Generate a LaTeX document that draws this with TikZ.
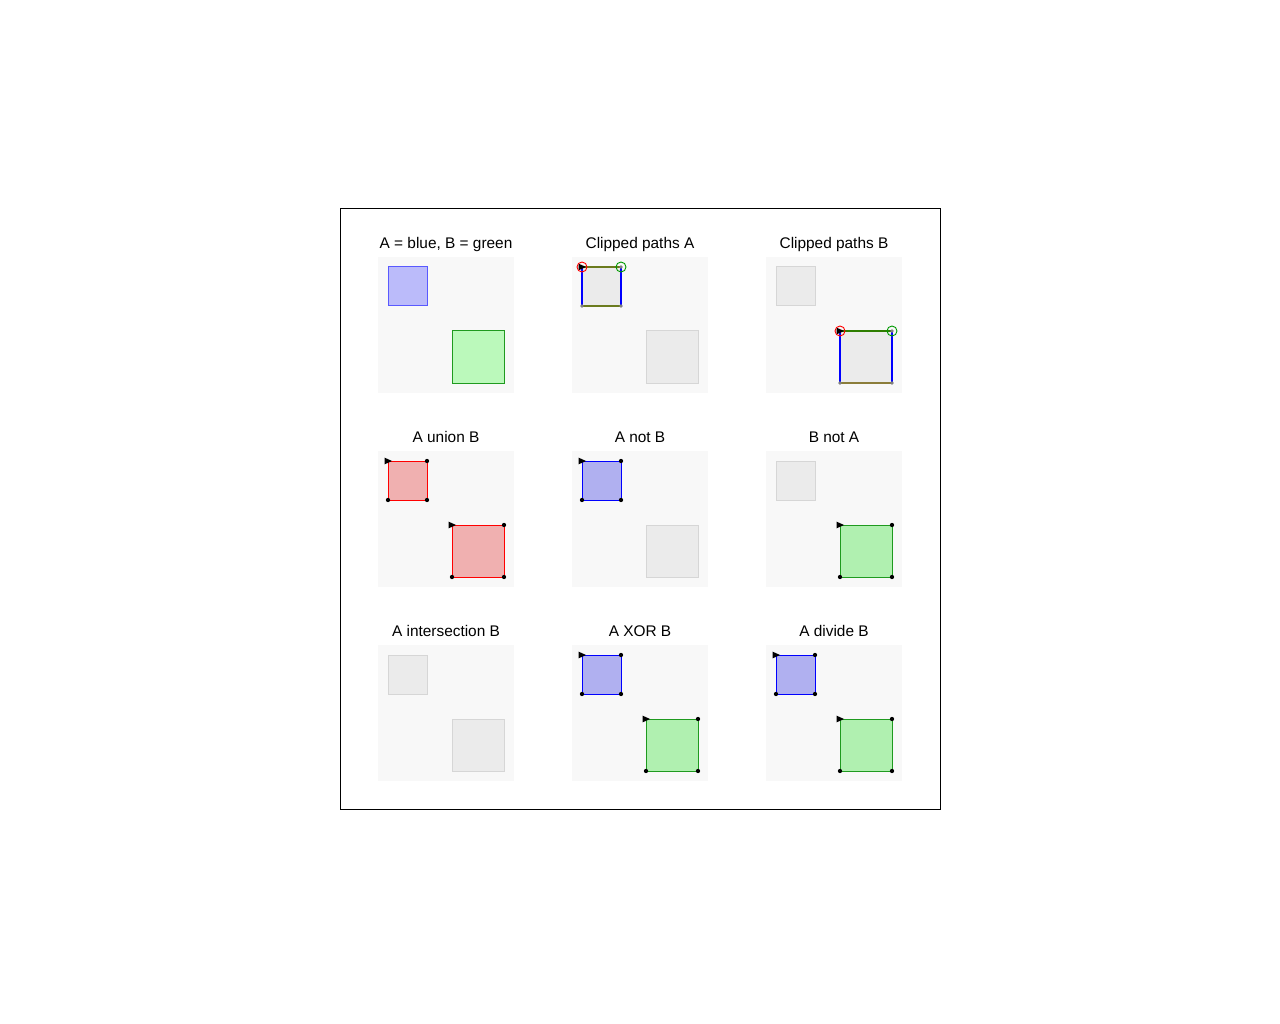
\documentclass[tikz,border=0pt]{standalone}
\usepackage{fontspec}
\setmainfont{Liberation Sans}
\usetikzlibrary{positioning}

\definecolor{panelbg}{HTML}{F8F8F8}
\definecolor{ghostfill}{HTML}{EBEBEB}
\definecolor{ghostline}{HTML}{D6D6D6}
\definecolor{Ablue}{HTML}{BBBBFA}
\definecolor{Bgreen}{HTML}{BBF9BB}
\definecolor{resblue}{HTML}{B0B0F0}
\definecolor{resgreen}{HTML}{B0F0B0}
\definecolor{resred}{HTML}{F0B0B0}
\definecolor{edgeolive}{HTML}{6B7B1E}
\definecolor{edgegreen}{HTML}{2E7D00}
\definecolor{edgebrown}{HTML}{8B7D3A}
\definecolor{greendraw}{HTML}{1F9A1F}

\newcommand{\startmark}[1]{\fill[black] ([shift={(-3.5,-3.4)}]#1) -- ++(7.5,3.4) -- ++(-7.5,3.4) -- cycle;}

\begin{document}
\begin{tikzpicture}[x=1pt,y=-1pt,
  panel/.style={fill=panelbg, minimum size=136, inner sep=0pt, outer sep=0pt},
  title/.style={font=\fontsize{15.4}{18}\selectfont, inner sep=0pt, anchor=base},
  sqA/.style={minimum size=39, inner sep=0pt, outer sep=0pt, line width=1pt},
  sqB/.style={minimum size=52, inner sep=0pt, outer sep=0pt, line width=1pt},
  ghost/.style={fill=ghostfill, draw=ghostline},
  vdot/.style={circle, fill=black, inner sep=0pt, minimum size=4.3},
  gdot/.style={circle, fill=gray, inner sep=0pt, minimum size=3.8},
  ring/.style={circle, draw=#1, line width=0.9pt, inner sep=0pt, minimum size=10}]
\useasboundingbox (0,0) rectangle (1280,1024);
\draw[line width=1pt] (340,209) rectangle (940,809);

% row 1
\node[panel] (p11) at (446,325) {};
\node[panel] (p12) at (640,325) {};
\node[panel] (p13) at (834,325) {};
\node[title] (t11) at (446,248.3) {A = blue, B = green};
\node[title] (t12) at (640,248.3) {Clipped paths A};
\node[title] (t13) at (834,248.3) {Clipped paths B};

% A = blue, B = green
\node[sqA, fill=Ablue, draw=blue!65] (a11) at (407.5,286.5) {};
\node[sqB, fill=Bgreen, draw=greendraw] (b11) at (478,357) {};

% clipped paths A
\node[sqA, ghost] (a12) at (601.5,286.5) {};
\node[sqB, ghost] (b12) at (672,357) {};
\draw[edgeolive, line width=1.3pt] (a12.north west) -- (a12.north east);
\draw[edgeolive, line width=1.3pt] (a12.south west) -- (a12.south east);
\draw[blue, line width=1.3pt] (a12.north west) -- (a12.south west);
\draw[blue, line width=1.3pt] (a12.north east) -- (a12.south east);
\node[gdot] at (a12.north east) {};
\node[gdot] at (a12.south east) {};
\node[gdot] at (a12.south west) {};
\startmark{a12.north west}
\node[ring=red] at (a12.north west) {};
\node[ring=green!60!black] at (a12.north east) {};

% clipped paths B
\node[sqA, ghost] (a13) at (795.5,286.5) {};
\node[sqB, ghost] (b13) at (866,357) {};
\draw[edgegreen, line width=1.3pt] (b13.north west) -- (b13.north east);
\draw[edgebrown, line width=1.3pt] (b13.south west) -- (b13.south east);
\draw[blue, line width=1.3pt] (b13.north west) -- (b13.south west);
\draw[blue, line width=1.3pt] (b13.north east) -- (b13.south east);
\node[gdot] at (b13.north east) {};
\node[gdot] at (b13.south east) {};
\node[gdot] at (b13.south west) {};
\startmark{b13.north west}
\node[ring=red] at (b13.north west) {};
\node[ring=green!60!black] at (b13.north east) {};

% row 2
\node[panel] (p21) at (446,519) {};
\node[panel] (p22) at (640,519) {};
\node[panel] (p23) at (834,519) {};
\node[title] (t21) at (446,442) {A union B};
\node[title] (t22) at (640,442) {A not B};
\node[title] (t23) at (834,442) {B not A};

% A union B
\node[sqA, fill=resred, draw=red] (a21) at (407.5,480.5) {};
\node[sqB, fill=resred, draw=red] (b21) at (478,551) {};
\node[vdot] at (a21.north east) {};
\node[vdot] at (a21.south east) {};
\node[vdot] at (a21.south west) {};
\startmark{a21.north west}
\node[vdot] at (b21.north east) {};
\node[vdot] at (b21.south east) {};
\node[vdot] at (b21.south west) {};
\startmark{b21.north west}

% A not B
\node[sqA, fill=resblue, draw=blue] (a22) at (601.5,480.5) {};
\node[sqB, ghost] (b22) at (672,551) {};
\node[vdot] at (a22.north east) {};
\node[vdot] at (a22.south east) {};
\node[vdot] at (a22.south west) {};
\startmark{a22.north west}

% B not A
\node[sqA, ghost] (a23) at (795.5,480.5) {};
\node[sqB, fill=resgreen, draw=greendraw] (b23) at (866,551) {};
\node[vdot] at (b23.north east) {};
\node[vdot] at (b23.south east) {};
\node[vdot] at (b23.south west) {};
\startmark{b23.north west}

% row 3
\node[panel] (p31) at (446,713) {};
\node[panel] (p32) at (640,713) {};
\node[panel] (p33) at (834,713) {};
\node[title] (t31) at (446,636) {A intersection B};
\node[title] (t32) at (640,636) {A XOR B};
\node[title] (t33) at (834,636) {A divide B};

% A intersection B
\node[sqA, ghost] (a31) at (407.5,674.5) {};
\node[sqB, ghost] (b31) at (478,745) {};

% A XOR B
\node[sqA, fill=resblue, draw=blue] (a32) at (601.5,674.5) {};
\node[sqB, fill=resgreen, draw=greendraw] (b32) at (672,745) {};
\node[vdot] at (a32.north east) {};
\node[vdot] at (a32.south east) {};
\node[vdot] at (a32.south west) {};
\startmark{a32.north west}
\node[vdot] at (b32.north east) {};
\node[vdot] at (b32.south east) {};
\node[vdot] at (b32.south west) {};
\startmark{b32.north west}

% A divide B
\node[sqA, fill=resblue, draw=blue] (a33) at (795.5,674.5) {};
\node[sqB, fill=resgreen, draw=greendraw] (b33) at (866,745) {};
\node[vdot] at (a33.north east) {};
\node[vdot] at (a33.south east) {};
\node[vdot] at (a33.south west) {};
\startmark{a33.north west}
\node[vdot] at (b33.north east) {};
\node[vdot] at (b33.south east) {};
\node[vdot] at (b33.south west) {};
\startmark{b33.north west}
\end{tikzpicture}
\end{document}
